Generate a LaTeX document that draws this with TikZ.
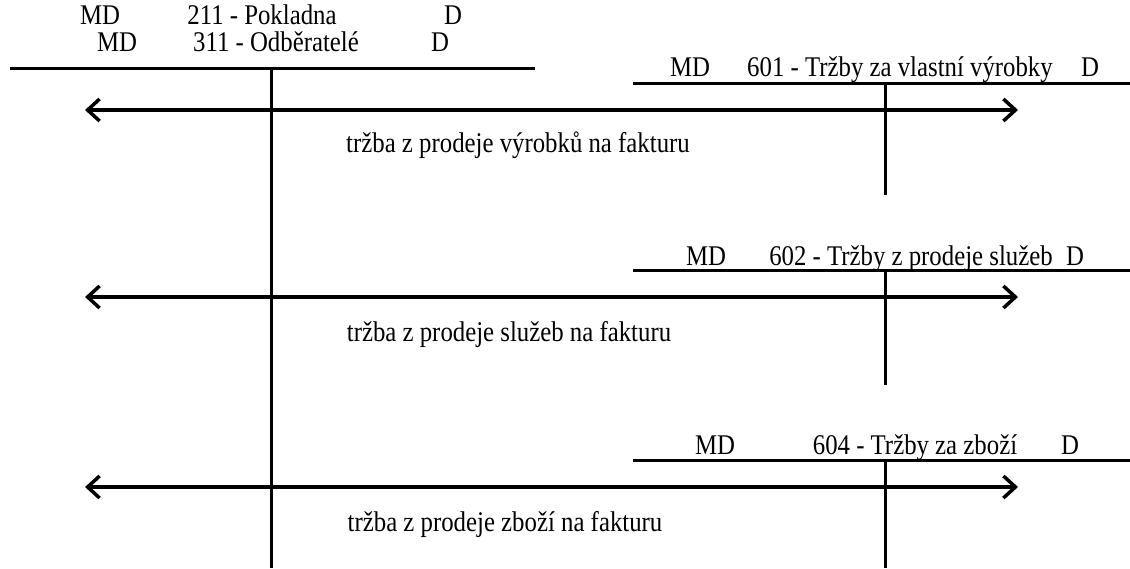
\documentclass[tikz,border=0pt]{standalone}
\usepackage{fontspec}
\setmainfont[FakeStretch=0.87]{Liberation Serif}
\usepackage{tikz}
\usetikzlibrary{positioning, arrows.meta, calc}

\tikzset{
	hdr/.style={inner sep=0pt, anchor=base, font=\fontsize{28.5}{30}\selectfont},
	tline/.style={line width=3pt},
	flow/.style={line width=3.5pt, {Straight Barb[length=12pt,width=22pt]}-{Straight Barb[length=12pt,width=22pt]}}
}

\begin{document}
\begin{tikzpicture}[x=1pt, y=-1pt, node distance=0.25cm]
	\useasboundingbox (0,0) rectangle (1130,568);
	% 211 - Pokladna
	\node[hdr] (md211) at (100,24) {MD};
	\node[hdr] (n211) at (262,24) {211 - Pokladna};
	\node[hdr] (d211) at (453,24) {D};
	% 311 - Odberatele
	\node[hdr] (md311) at (117,51) {MD};
	\node[hdr] (n311) at (276,51) {311 - Odběratelé};
	\node[hdr] (d311) at (440,51) {D};
	\coordinate (l311) at (10,68);
	\coordinate (r311) at (535,68);
	\coordinate (t311) at (271,68);
	\coordinate (b311) at (271,568);
	% 601
	\node[hdr] (md601) at (690,76) {MD};
	\node[hdr] (n601) at (900,76) {601 - Tržby za vlastní výrobky};
	\node[hdr] (d601) at (1090,76) {D};
	\coordinate (l601) at (633,83);
	\coordinate (r601) at (1130,83);
	\coordinate (t601) at (885,83);
	\coordinate (b601) at (885,195);
	% 602
	\node[hdr] (md602) at (706,265) {MD};
	\node[hdr] (n602) at (911,265) {602 - Tržby z prodeje služeb};
	\node[hdr] (d602) at (1075,265) {D};
	\coordinate (l602) at (633,270);
	\coordinate (r602) at (1130,270);
	\coordinate (t602) at (885,270);
	\coordinate (b602) at (885,385);
	% 604
	\node[hdr] (md604) at (715,454) {MD};
	\node[hdr] (n604) at (915,454) {604 - Tržby za zboží};
	\node[hdr] (d604) at (1070,454) {D};
	\coordinate (l604) at (633,460);
	\coordinate (r604) at (1130,460);
	\coordinate (t604) at (885,460);
	\coordinate (b604) at (885,568);
	% flows
	\coordinate (a1l) at (85,110);
	\coordinate (a1r) at (1018,110);
	\coordinate (a2l) at (85,297);
	\coordinate (a2r) at (1018,297);
	\coordinate (a3l) at (85,487);
	\coordinate (a3r) at (1018,487);
	\node[hdr] (lab1) at (518,152) {tržba z prodeje výrobků na fakturu};
	\node[hdr] (lab2) at (509,341) {tržba z prodeje služeb na fakturu};
	\node[hdr] (lab3) at (505,531) {tržba z prodeje zboží na fakturu};
	\draw[tline]
	(l311) edge (r311)
	(t311) edge (b311)
	(l601) edge (r601)
	(t601) edge (b601)
	(l602) edge (r602)
	(t602) edge (b602)
	(l604) edge (r604)
	(t604) edge (b604);
	\draw
	(a1l) edge[flow] (a1r)
	(a2l) edge[flow] (a2r)
	(a3l) edge[flow] (a3r);
\end{tikzpicture}
\end{document}
